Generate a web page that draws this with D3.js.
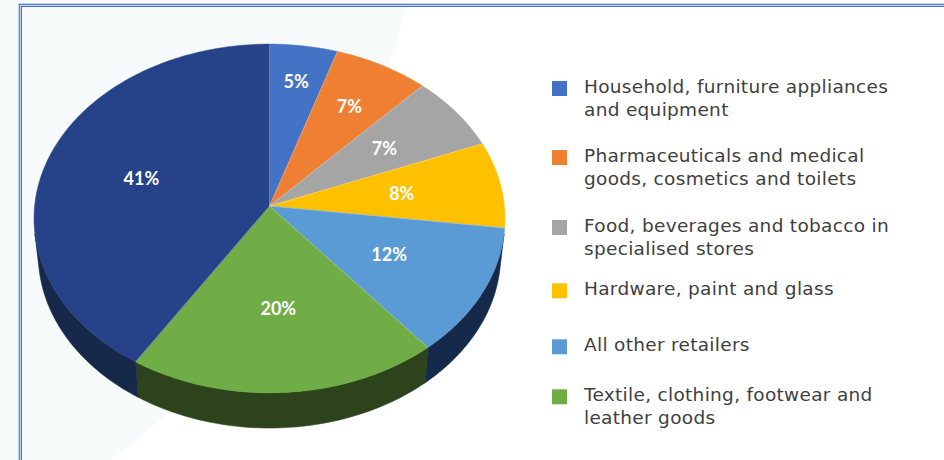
<!DOCTYPE html>
<html>
<head>
<meta charset="utf-8">
<script src="https://cdn.jsdelivr.net/npm/d3@7"></script>
<style>
  html, body { margin: 0; padding: 0; background: #ffffff; }
  svg { display: block; }
</style>
</head>
<body>
<svg id="chart" width="944" height="460"></svg>
<script>
// Retail categories, share of total (%), in drawing order (clockwise from 12 o'clock)
const categories = [
  "Household, furniture appliances\nand equipment",
  "Pharmaceuticals and medical\ngoods, cosmetics and toilets",
  "Food, beverages and tobacco in\nspecialised stores",
  "Hardware, paint and glass",
  "All other retailers",
  "Textile, clothing, footwear and\nleather goods"
];
const shareValues = [5, 7, 7, 8, 12, 20, 41];
// The last slice has no legend entry of its own
const sliceNames = categories.concat(["Other"]);

// Styles
const topColors  = ["#4472c4", "#ef7f33", "#a5a5a5", "#ffc000", "#5b9bd5", "#70ad47", "#264389"];
const sideColors = ["#27447a", "#8c4a1d", "#5f5f5f", "#8f6b00", "#152a4b", "#2c431c", "#16294a"];

// Legend layout: baseline of the first text line of each entry
const legendRowY = [92.7, 161.7, 231.7, 295, 351, 401];

const svg = d3.select("#chart");
const W = 944, H = 460;

// ---- background wash and frame ----
const wash = d3.path();
wash.moveTo(0, 0);
wash.lineTo(408, 0);
wash.quadraticCurveTo(330, 300, 110, 460);
wash.lineTo(0, 460);
wash.closePath();
svg.append("path").attr("d", wash.toString()).attr("fill", "#f7fafa");

svg.append("rect").attr("x", 19.5).attr("y", 4.5).attr("width", W).attr("height", H)
  .attr("fill", "none").attr("stroke", "#c3d2ef").attr("stroke-width", 3);
svg.append("rect").attr("x", 19.5).attr("y", 4.5).attr("width", W).attr("height", H)
  .attr("fill", "none").attr("stroke", "#5b82d0").attr("stroke-width", 1);
svg.append("rect").attr("x", 21.5).attr("y", 6.5).attr("width", W).attr("height", H)
  .attr("fill", "none").attr("stroke", "#4a74c8").attr("stroke-width", 1);

// ---- 3D pie (perspective projection of a tilted disc) ----
const view = {
  cx: 269.5, cy: 206,      // screen position of the disc centre
  focal: 2217,             // focal length in px per unit radius
  tilt: Math.asin(0.7386), // viewing elevation
  dist: 9.44,              // camera distance in radii
  depth: 0.232             // disc thickness in radii
};
const sT = Math.sin(view.tilt), cT = Math.cos(view.tilt);

// theta: clockwise from the far side; r: fraction of radius; h: height above top face
function project(theta, r, h) {
  const u = r * Math.sin(theta), v = r * Math.cos(theta);
  const yc = v * sT + h * cT;
  const zc = view.dist + v * cT - h * sT;
  return [view.cx + view.focal * u / zc, view.cy - view.focal * yc / zc];
}

const pie = d3.pie().sort(null).value(d => d.value).startAngle(0).endAngle(2 * Math.PI);
const arcs = pie(shareValues.map((v, i) => ({ value: v, name: sliceNames[i], i })));

const line = d3.line();
const steps = a => Math.max(4, Math.ceil(Math.abs(a) / (Math.PI / 180)));

function rim(a0, a1, h) {
  const n = steps(a1 - a0);
  return d3.range(n + 1).map(k => project(a0 + (a1 - a0) * k / n, 1, h));
}

// Outer wall is visible only where it faces the camera
const wallLimit = Math.acos(-1 / (view.dist * cT));
const wallMin = wallLimit, wallMax = 2 * Math.PI - wallLimit;

const walls = svg.append("g");
arcs.forEach(d => {
  const a0 = Math.max(d.startAngle, wallMin), a1 = Math.min(d.endAngle, wallMax);
  if (a1 <= a0) return;
  const pts = rim(a0, a1, 0).concat(rim(a1, a0, -view.depth));
  walls.append("path")
    .attr("d", line(pts) + "Z")
    .attr("fill", sideColors[d.data.i])
    .attr("stroke", sideColors[d.data.i])
    .attr("stroke-width", 0.6);
});

const tops = svg.append("g");
arcs.forEach(d => {
  const pts = [project(0, 0, 0)].concat(rim(d.startAngle, d.endAngle, 0));
  tops.append("path")
    .attr("d", line(pts) + "Z")
    .attr("fill", topColors[d.data.i])
    .attr("stroke", topColors[d.data.i])
    .attr("stroke-width", 0.5)
    .attr("stroke-linejoin", "round");
});
// faint seams between slices
arcs.forEach(d => {
  tops.append("path")
    .attr("d", line([project(0, 0, 0), project(d.startAngle, 1, 0)]))
    .attr("stroke", "rgba(255,255,255,0.35)")
    .attr("stroke-width", 0.7)
    .attr("fill", "none");
});

// Data labels: further out for slices on the far side
const fmt = d3.format(".0f");
svg.append("g").selectAll("text")
  .data(arcs)
  .join("text")
  .attr("transform", d => {
    const mid = (d.startAngle + d.endAngle) / 2;
    const r = 0.57 + 0.2 * Math.pow(Math.max(0, Math.cos(mid)), 3);
    const p = project(mid, r, 0);
    return `translate(${p[0]},${p[1]})`;
  })
  .attr("text-anchor", "middle")
  .attr("dy", "0.36em")
  .attr("fill", "#ffffff")
  .attr("font-family", "Lato, 'DejaVu Sans', sans-serif")
  .attr("font-weight", 700)
  .attr("font-size", 18)
  .text(d => fmt(d.data.value) + "%");

// ---- legend ----
const legend = svg.append("g").attr("transform", "translate(552,0)");
const lineH = 23.4;
categories.forEach((name, i) => {
  const baseline = legendRowY[i];
  const lines = name.split("\n");
  const g = legend.append("g");
  g.append("rect")
    .attr("x", 0).attr("y", baseline - 11.7)
    .attr("width", 15).attr("height", 15)
    .attr("fill", topColors[i]);
  const t = g.append("text")
    .attr("x", 32).attr("y", baseline)
    .attr("fill", "#404040")
    .attr("font-family", "'DejaVu Sans', sans-serif")
    .attr("font-size", 18.5)
    .attr("letter-spacing", 0.3);
  lines.forEach((ln, k) => {
    t.append("tspan").attr("x", 32).attr("y", baseline + k * lineH).text(ln);
  });
});
</script>
</body>
</html>
